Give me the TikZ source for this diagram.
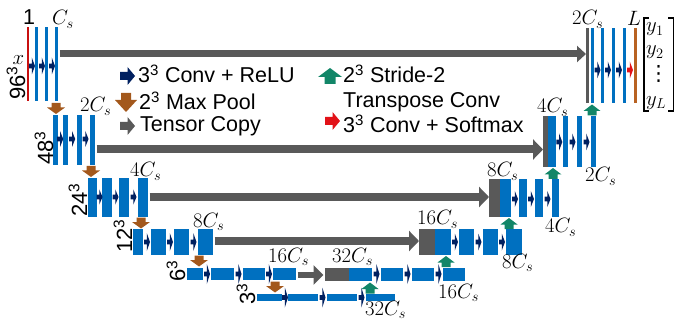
\documentclass[tikz,border=0pt]{standalone}
\usepackage{fontspec}
\setmainfont{Liberation Sans}
\newfontfamily\dejavu{DejaVu Sans}
\usetikzlibrary{arrows.meta}
\definecolor{ublue}{RGB}{0,112,192}
\definecolor{unavy}{RGB}{0,32,96}
\definecolor{ugray}{RGB}{89,89,89}
\definecolor{ubrown}{RGB}{163,88,28}
\definecolor{ugreen}{RGB}{18,134,104}
\definecolor{ured}{RGB}{226,18,24}
\definecolor{ulred}{RGB}{200,16,16}
\definecolor{ulbrown}{RGB}{184,98,34}
% bar node: [style]{name}{x1}{x2}{y1}{y2}
\newcommand\mkbar[6][bluebar]{\node[#1,minimum width={(#4-#3)*1pt},minimum height={(#6-#5)*1pt}] (#2) at ({(#3+#4)/2},{(#5+#6)/2}) {};}
% conv arrow glyph: [colour]{x}{y}{half height}
\newcommand\cvR[4][unavy]{\fill[#1,shift={(#2,#3)}] (-3,-2.3) -- (-0.2,-2.3) -- (-0.2,-#4) -- (3,0) -- (-0.2,#4) -- (-0.2,2.3) -- (-3,2.3) -- cycle;}
% pooling arrow glyph (down)
\newcommand\poolD[2]{\fill[ubrown,shift={(#1,#2)}] (-4.5,-5.5) -- (4.5,-5.5) -- (4.5,-1) -- (9,-1) -- (0,5.5) -- (-9,-1) -- (-4.5,-1) -- cycle;}
% transpose conv glyph (up)
\newcommand\upG[2]{\fill[ugreen,shift={(#1,#2)}] (-4.5,5.5) -- (4.5,5.5) -- (4.5,1) -- (8.5,1) -- (0,-5.5) -- (-8.5,1) -- (-4.5,1) -- cycle;}
\begin{document}
\begin{tikzpicture}[x=1pt,y=-1pt,
  bluebar/.style={rectangle,fill=ublue,draw=none,inner sep=0pt,outer sep=0pt},
  graybar/.style={bluebar,fill=ugray},
  redbar/.style={bluebar,fill=ulred},
  brownbar/.style={bluebar,fill=ulbrown},
  lbl/.style={inner sep=0pt,anchor=base west,font=\fontsize{21}{25}\selectfont},
  vec/.style={inner sep=0pt,anchor=base west,font=\fontsize{22.5}{26}\selectfont},
  leg/.style={inner sep=0pt,anchor=base west,font=\fontsize{21.5}{26}\selectfont},
  dimlbl/.style={inner sep=0pt,anchor=base west,rotate=90,font=\fontsize{22}{26}\selectfont},
  copyarr/.style={draw=ugray,line width=8pt,-{Triangle[length=10pt,width=20pt]},shorten <=1.5pt}]
\useasboundingbox (0,0) rectangle (675,326);

% ---------- encoder ----------
\mkbar[redbar]{L1a}{26.7}{29.3}{27}{101}
\mkbar{L1b}{35}{38.3}{27}{101}
\mkbar{L1c}{45}{48.3}{27}{101}
\mkbar{L1d}{55}{58.3}{27}{101}
\cvR{32}{66}{8.5}\cvR{42}{66}{8.5}\cvR{52}{66}{8.5}

\mkbar{L2a}{53}{57.5}{115}{165}
\mkbar{L2b}{63}{68}{115}{165}
\mkbar{L2c}{76.5}{81.5}{115}{165}
\mkbar{L2d}{89.5}{95}{115}{165}
\cvR{60.2}{139}{8}\cvR{72.2}{139}{8}\cvR{85.5}{139}{8}

\mkbar{L3a}{88}{97}{178}{217}
\mkbar{L3b}{102}{112}{178}{217}
\mkbar{L3c}{119}{129}{178}{217}
\mkbar{L3d}{138}{148}{178}{217}
\cvR{99.5}{197}{7.5}\cvR{115.5}{197}{7.5}\cvR{133.5}{197}{7.5}

\mkbar{L4a}{133}{143}{229}{255}
\mkbar{L4b}{151}{166}{229}{255}
\mkbar{L4c}{174}{189}{229}{255}
\mkbar{L4d}{198}{213}{229}{255}
\cvR{147}{242}{9}\cvR{170}{242}{9}\cvR{193.5}{242}{9}

\mkbar{L5a}{187}{203}{268}{280}
\mkbar{L5b}{211}{234}{268}{280}
\mkbar{L5c}{243}{265}{268}{280}
\mkbar{L5d}{273}{296}{268}{280}
\cvR{207}{274}{10}\cvR{238.5}{274}{10}\cvR{269}{274}{10}

\mkbar{L6a}{257}{282}{294}{301}
\mkbar{L6b}{288}{318}{294}{301}
\mkbar{L6c}{327}{357}{294}{301}
\mkbar{L6d}{366}{395}{294}{301}
\cvR{285}{297.5}{10}\cvR{322.5}{297.5}{10}\cvR{361.5}{297.5}{10}

% ---------- decoder ----------
\mkbar[graybar]{R5g}{325}{349}{268}{281}
\mkbar{R5a}{349}{372}{268}{281}
\mkbar{R5b}{381}{403}{268}{281}
\mkbar{R5c}{412}{434}{268}{281}
\mkbar{R5d}{443}{465}{268}{281}
\cvR{376.5}{274}{10}\cvR{407.5}{274}{10}\cvR{438.5}{274}{10}

\mkbar[graybar]{R4g}{419}{435}{229}{255}
\mkbar{R4a}{435}{451}{229}{255}
\mkbar{R4b}{459}{474}{229}{255}
\mkbar{R4c}{483}{498}{229}{255}
\mkbar{R4d}{506}{522}{229}{255}
\cvR{455}{242}{8.5}\cvR{478.5}{242}{8.5}\cvR{502}{242}{8.5}

\mkbar[graybar]{R3g}{489}{500}{179}{217}
\mkbar{R3a}{500}{511}{179}{217}
\mkbar{R3b}{519}{527}{179}{217}
\mkbar{R3c}{535}{543}{179}{217}
\mkbar{R3d}{552}{559}{179}{217}
\cvR{515}{199}{8}\cvR{531}{199}{8}\cvR{547.5}{199}{8}

\mkbar[graybar]{R2g}{543}{548.3}{116}{167}
\mkbar{R2a}{548.3}{555.5}{116}{167}
\mkbar{R2b}{563}{568}{116}{167}
\mkbar{R2c}{577}{582}{116}{167}
\mkbar{R2d}{591}{596}{116}{167}
\cvR{559.3}{142}{8.5}\cvR{572.5}{142}{8.5}\cvR{586.5}{142}{8.5}

\mkbar[graybar]{R1g}{586}{589}{28}{103}
\mkbar{R1a}{591}{594}{28}{103}
\mkbar{R1b}{601}{604}{28}{103}
\mkbar{R1c}{612}{615}{28}{103}
\mkbar{R1d}{623}{626}{28}{103}
\mkbar[brownbar]{R1e}{634}{637}{28}{103}
\cvR{597.5}{70}{8.5}\cvR{608}{70}{8.5}\cvR{619}{70}{8.5}\cvR[ured]{630}{70}{8.5}

% ---------- tensor copies ----------
\coordinate (c1) at (0,54);
\coordinate (c2) at (0,149.5);
\coordinate (c3) at (0,197);
\coordinate (c4) at (0,241);
\coordinate (c5) at (0,275);
\draw[copyarr,line width=7pt,-{Triangle[length=9pt,width=16pt]}] (L1d.east |- c1) -- (R1g.west |- c1);
\draw[copyarr] (L2d.east |- c2) -- (R2g.west |- c2);
\draw[copyarr] (L3d.east |- c3) -- (R3g.west |- c3);
\draw[copyarr] (L4d.east |- c4) -- (R4g.west |- c4);
\draw[copyarr,line width=6.5pt,-{Triangle[length=10pt,width=19pt]},shorten >=1.5pt] (L5d.east |- c5) -- (R5g.west |- c5);

% ---------- pooling and up-convolutions ----------
\poolD{56}{108.5}\poolD{91}{171.5}\poolD{141}{223}\poolD{199}{261}\poolD{275}{287}
\upG{370}{288}\upG{446}{261.5}\upG{509}{223.5}\upG{553}{173.5}\upG{592}{110}

% ---------- labels ----------
\node[leg] (t1) at (23,25) {1};
\node[lbl] (tcs) at (52,25) {$C_s$};
\node[vec] (tx) at (12.5,65) {$x$};
\node[dimlbl] (d96) at (25,100) {96\textsuperscript{3}};
\node[dimlbl] (d48) at (53,165) {48\textsuperscript{3}};
\node[dimlbl] (d24) at (87,217) {24\textsuperscript{3}};
\node[dimlbl] (d12) at (132,253) {12\textsuperscript{3}};
\node[dimlbl] (d6) at (185,282) {6\textsuperscript{3}};
\node[dimlbl] (d3) at (255,305) {3\textsuperscript{3}};

\node[lbl] (e2) at (80,112) {$2C_s$};
\node[lbl] (e3) at (130,177) {$4C_s$};
\node[lbl] (e4) at (193,227) {$8C_s$};
\node[lbl] (e5) at (268,262) {$16C_s$};
\node[lbl] (r5t) at (332,262) {$32C_s$};
\node[lbl] (r4t) at (417,225) {$16C_s$};
\node[lbl] (r3t) at (487,177) {$8C_s$};
\node[lbl] (r2t) at (537,113) {$4C_s$};
\node[lbl] (r1t) at (572,25) {$2C_s$};
\node[lbl] (rL) at (627,26) {$L$};
\node[lbl] (r2b) at (585,182) {$2C_s$};
\node[lbl] (r3b) at (545,233) {$4C_s$};
\node[lbl] (r4b) at (502,268) {$8C_s$};
\node[lbl] (r5b) at (438,298) {$16C_s$};
\node[lbl] (l6b) at (365,315) {$32C_s$};

% output vector
\draw[line width=1.3pt] (649,18) -- (644,18) -- (644,111) -- (649,111);
\draw[line width=1.3pt] (668,18) -- (673.3,18) -- (673.3,111) -- (668,111);
\node[vec] (y1) at (646,32) {$y_1$};
\node[vec] (y2) at (646,55) {$y_2$};
\node[inner sep=0pt,font=\fontsize{21}{24}\dejavu] (yd) at (658.5,74) {⋮};
\node[vec] (yL) at (646,105.5) {$y_L$};

% ---------- legend ----------
\fill[unavy,shift={(127.5,76)}] (-7.5,-4) -- (0,-4) -- (0,-9) -- (7.5,0) -- (0,9) -- (0,4) -- (-7.5,4) -- cycle;
\fill[ubrown,shift={(126,102.5)}] (-5,-9.5) -- (5,-9.5) -- (5,-2.5) -- (11,-2.5) -- (0,9.5) -- (-11,-2.5) -- (-5,-2.5) -- cycle;
\fill[ugray,shift={(127.5,126)}] (-7.5,-4) -- (0,-4) -- (0,-9) -- (7.5,0) -- (0,9) -- (0,4) -- (-7.5,4) -- cycle;
\fill[ugreen,shift={(330,76)}] (-5.5,8) -- (5.5,8) -- (5.5,1) -- (12,1) -- (0,-8) -- (-12,1) -- (-5.5,1) -- cycle;
\fill[ured,shift={(332.5,121)}] (-7.5,-4) -- (0,-4) -- (0,-9) -- (7.5,0) -- (0,9) -- (0,4) -- (-7.5,4) -- cycle;
\node[leg] (g1) at (138,83) {3\textsuperscript{3} Conv + ReLU};
\node[leg] (g2) at (139,110) {2\textsuperscript{3} Max Pool};
\node[leg] (g3) at (140,132) {Tensor Copy};
\node[leg] (g4) at (343,83) {2\textsuperscript{3} Stride-2};
\node[leg] (g5) at (343,108) {Transpose Conv};
\node[leg] (g6) at (343,133) {3\textsuperscript{3} Conv + Softmax};
\end{tikzpicture}
\end{document}
